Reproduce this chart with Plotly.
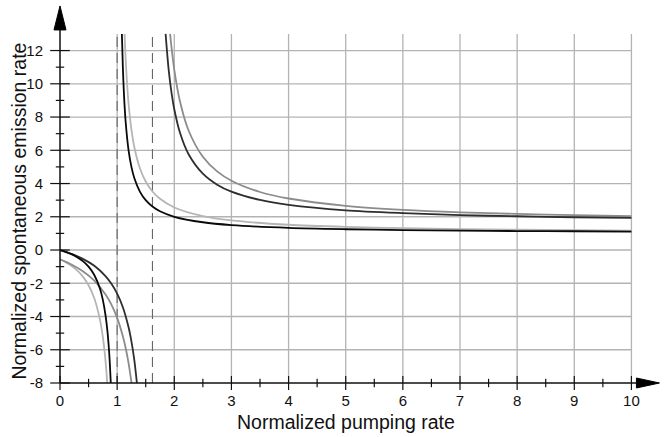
import plotly.graph_objects as go

# ---- data ----
# black curve (asymptote near x=1)
c1_lo_x = [0, 0.1, 0.2, 0.3, 0.4, 0.5, 0.6, 0.7, 0.75, 0.8, 0.83, 0.85, 0.87, 0.889]
c1_lo_y = [0, -0.11, -0.25, -0.43, -0.67, -1.0, -1.5, -2.33, -3.0, -4.0, -4.88, -5.67, -6.69, -8.0]
c1_hi_x = [1.083, 1.1, 1.12, 1.15, 1.2, 1.25, 1.3, 1.4, 1.5, 1.618, 1.75, 2, 2.5, 3, 4, 5, 6, 7, 8, 9, 10]
c1_hi_y = [13.0, 11.0, 9.33, 7.67, 6.0, 5.0, 4.33, 3.5, 3.0, 2.62, 2.33, 2.0, 1.67, 1.5, 1.33, 1.25, 1.2, 1.17, 1.14, 1.13, 1.11]

# light grey curve (asymptote near x=1)
c2_lo_x = [0, 0.1, 0.2, 0.3, 0.4, 0.5, 0.6, 0.7, 0.75, 0.78, 0.8, 0.815, 0.827]
c2_lo_y = [-0.56, -0.73, -0.95, -1.23, -1.6, -2.12, -2.9, -4.2, -5.24, -6.09, -6.8, -7.43, -8.0]
c2_hi_x = [1.13, 1.15, 1.18, 1.2, 1.25, 1.3, 1.4, 1.5, 1.618, 1.75, 2, 2.5, 3, 4, 5, 6, 7, 8, 9, 10]
c2_hi_y = [13.0, 11.4, 9.67, 8.8, 7.24, 6.2, 4.9, 4.12, 3.52, 3.08, 2.56, 2.04, 1.78, 1.52, 1.39, 1.31, 1.26, 1.22, 1.2, 1.17]

# dark curve (asymptote near x=1.618)
c3_lo_x = [0, 0.2, 0.4, 0.6, 0.8, 0.9, 1.0, 1.1, 1.2, 1.25, 1.3, 1.346]
c3_lo_y = [0, -0.23, -0.53, -0.95, -1.58, -2.03, -2.62, -3.44, -4.65, -5.5, -6.61, -8.0]
c3_hi_x = [1.848, 1.9, 1.95, 2.0, 2.1, 2.25, 2.5, 2.75, 3, 3.5, 4, 5, 6, 7, 8, 9, 10]
c3_hi_y = [13.0, 10.9, 9.5, 8.47, 7.05, 5.76, 4.59, 3.93, 3.51, 3.01, 2.72, 2.39, 2.22, 2.1, 2.03, 1.97, 1.93]

# medium grey curve (asymptote near x=1.618)
c4_lo_x = [0, 0.2, 0.4, 0.6, 0.8, 0.9, 1.0, 1.1, 1.15, 1.2, 1.252]
c4_lo_y = [-0.56, -0.87, -1.28, -1.84, -2.69, -3.29, -4.08, -5.19, -5.91, -6.81, -8.0]
c4_hi_x = [1.927, 1.95, 2.0, 2.1, 2.25, 2.5, 2.75, 3, 3.5, 4, 5, 6, 7, 8, 9, 10]
c4_hi_y = [13.0, 12.23, 10.84, 8.93, 7.19, 5.61, 4.73, 4.17, 3.49, 3.1, 2.66, 2.42, 2.27, 2.17, 2.1, 2.04]

dashed_x = [1, 1.618]
x_ticks = [0, 1, 2, 3, 4, 5, 6, 7, 8, 9, 10]
x_minor = [0.5, 1.5, 2.5, 3.5, 4.5, 5.5, 6.5, 7.5, 8.5, 9.5]
y_ticks = [-8, -6, -4, -2, 0, 2, 4, 6, 8, 10, 12]
y_minor = [-7, -5, -3, -1, 1, 3, 5, 7, 9, 11]
x_grid = [1, 2, 3, 4, 5, 6, 7, 8, 9, 10]
y_grid = [-6, -4, -2, 0, 2, 4, 6, 8, 10, 12]

XMIN, XMAX, YMIN, YTOP = 0, 10, -8, 13
X_RANGE = [0, 10.5]
Y_RANGE = [-8, 14.8]
W, H = 665, 437
L, B = 60.3, 54
PXX = 57.07   # px per x unit
PXY = 16.64   # px per y unit
R = W - L - (X_RANGE[1] - X_RANGE[0]) * PXX
T = H - B - (Y_RANGE[1] - Y_RANGE[0]) * PXY

FONT = "Liberation Sans, Arial, sans-serif"
GRID = "#b3b3b3"


def px_(x):
    return (x - X_RANGE[0]) / (X_RANGE[1] - X_RANGE[0])


def py_(y):
    return (y - Y_RANGE[0]) / (Y_RANGE[1] - Y_RANGE[0])


fig = go.Figure()
shapes = []
for gx in x_grid:
    shapes.append(dict(type="line", x0=gx, x1=gx, y0=YMIN, y1=YTOP, xref="x", yref="y",
                       line=dict(color=GRID, width=1.3), layer="below"))
for gy in y_grid:
    shapes.append(dict(type="line", x0=XMIN, x1=XMAX, y0=gy, y1=gy, xref="x", yref="y",
                       line=dict(color=GRID, width=1.3), layer="below"))
for dx in dashed_x:
    shapes.append(dict(type="line", x0=dx, x1=dx, y0=YMIN, y1=YTOP, xref="x", yref="y",
                       line=dict(color="#666666", width=1.1, dash="10px,6px"), layer="below"))

# axes lines and arrow heads (paper coords so nothing is clipped)
x_arrow_base = XMAX + 5 / PXX
x_arrow_tip = XMAX + 28 / PXX
y_arrow_base = YTOP + 4 / PXY
y_arrow_tip = YTOP + 28 / PXY
shapes.append(dict(type="line", xref="paper", yref="paper",
                   x0=px_(XMIN), x1=px_(x_arrow_base), y0=py_(YMIN), y1=py_(YMIN),
                   line=dict(color="#111", width=1.5)))
shapes.append(dict(type="line", xref="paper", yref="paper",
                   x0=px_(XMIN), x1=px_(XMIN), y0=py_(YMIN), y1=py_(y_arrow_base),
                   line=dict(color="#111", width=1.5)))
hx = 5 / PXY
shapes.append(dict(type="path", xref="paper", yref="paper",
                   path=(f"M {px_(x_arrow_base)} {py_(YMIN - hx)} L {px_(x_arrow_tip)} {py_(YMIN)} "
                         f"L {px_(x_arrow_base)} {py_(YMIN + hx)} Z"),
                   fillcolor="#000", line=dict(color="#000", width=1)))
hy = 6 / PXX
shapes.append(dict(type="path", xref="paper", yref="paper",
                   path=(f"M {px_(XMIN - hy)} {py_(y_arrow_base)} L {px_(XMIN)} {py_(y_arrow_tip)} "
                         f"L {px_(XMIN + hy)} {py_(y_arrow_base)} Z"),
                   fillcolor="#000", line=dict(color="#000", width=1)))

curves = [
    (c2_lo_x, c2_lo_y, "#b5b5b5"), (c2_hi_x, c2_hi_y, "#b5b5b5"),
    (c4_lo_x, c4_lo_y, "#8c8c8c"), (c4_hi_x, c4_hi_y, "#8c8c8c"),
    (c3_lo_x, c3_lo_y, "#2e2e2e"), (c3_hi_x, c3_hi_y, "#2e2e2e"),
    (c1_lo_x, c1_lo_y, "#0a0a0a"), (c1_hi_x, c1_hi_y, "#0a0a0a"),
]
for cx, cy, col in curves:
    fig.add_trace(go.Scatter(x=cx, y=cy, mode="lines",
                             line=dict(color=col, width=1.8, shape="spline", smoothing=0.8),
                             hoverinfo="skip", showlegend=False, cliponaxis=False))

# tick marks crossing the axes
tick_sets = [
    (x_ticks, [YMIN] * len(x_ticks), "line-ns-open", 10),
    (x_minor, [YMIN] * len(x_minor), "line-ns-open", 6),
    ([XMIN] * len(y_ticks), y_ticks, "line-ew-open", 14),
    ([XMIN] * len(y_minor), y_minor, "line-ew-open", 6),
]
for tx, ty, sym, sz in tick_sets:
    fig.add_trace(go.Scatter(x=tx, y=ty, mode="markers",
                             marker=dict(symbol=sym, size=sz, color="#111",
                                         line=dict(color="#111", width=1.2)),
                             hoverinfo="skip", showlegend=False, cliponaxis=False))

annotations = [
    dict(text="Normalized pumping rate", xref="paper", yref="paper",
         x=px_(5), y=0, xanchor="center", yanchor="middle", yshift=-39,
         showarrow=False, font=dict(family=FONT, size=19.5, color="#111")),
    dict(text="Normalized spontaneous emission rate", xref="paper", yref="paper",
         x=0, y=py_(2.34), xanchor="center", yanchor="middle", xshift=-40.5,
         textangle=-90, showarrow=False, font=dict(family=FONT, size=19.5, color="#111")),
]

fig.update_layout(
    width=W, height=H,
    margin=dict(l=L, r=R, t=T, b=B, pad=0),
    paper_bgcolor="white", plot_bgcolor="white",
    shapes=shapes, annotations=annotations,
    font=dict(family=FONT, size=15, color="#111"),
    xaxis=dict(range=X_RANGE, showgrid=False, zeroline=False, showline=False,
               tickmode="array", tickvals=x_ticks, ticktext=[str(v) for v in x_ticks],
               ticks="outside", ticklen=4, tickcolor="rgba(0,0,0,0)",
               tickfont=dict(family=FONT, size=15, color="#111")),
    yaxis=dict(range=Y_RANGE, showgrid=False, zeroline=False, showline=False,
               tickmode="array", tickvals=y_ticks, ticktext=[str(v) for v in y_ticks],
               ticks="outside", ticklen=13, tickcolor="rgba(0,0,0,0)",
               tickfont=dict(family=FONT, size=15, color="#111")),
)

fig.write_html("out.html", config={"displayModeBar": False},
               post_script="document.body.style.margin='0';document.body.style.overflow='hidden';")
